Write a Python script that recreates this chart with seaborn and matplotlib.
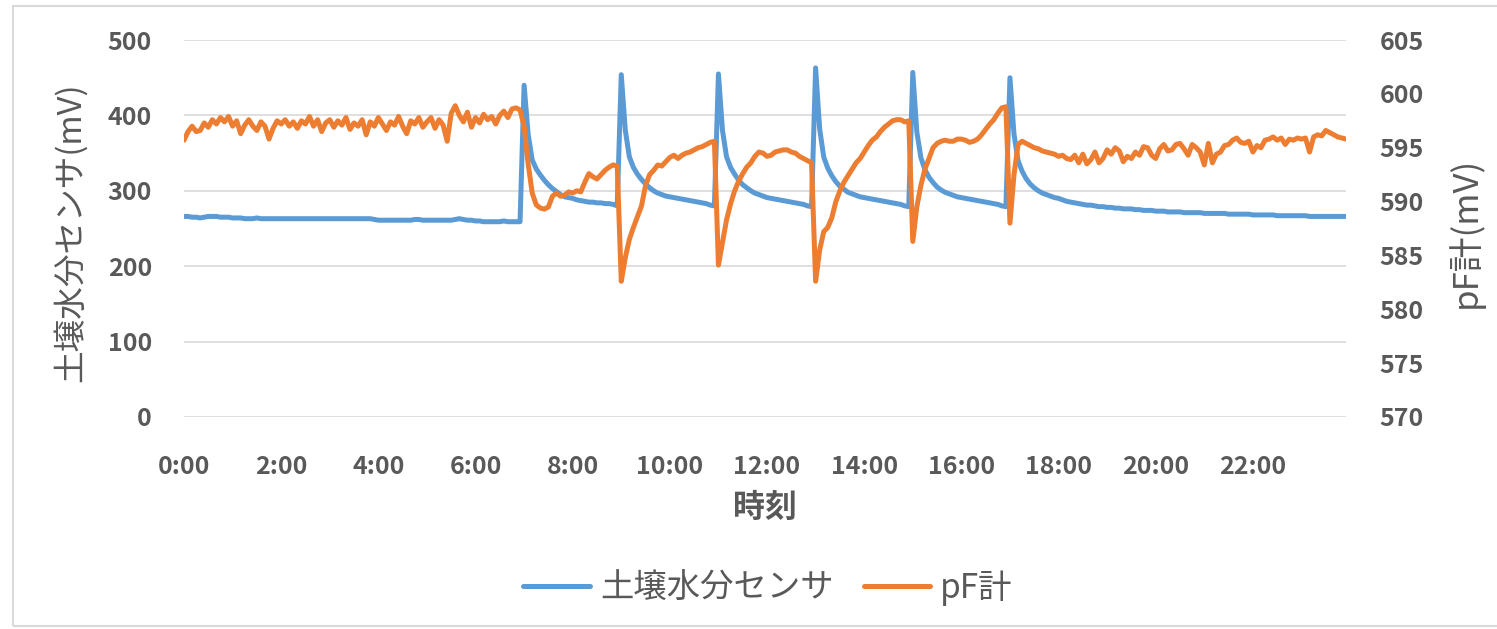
import matplotlib
matplotlib.use("Agg")
import matplotlib.pyplot as plt
from matplotlib.patches import Rectangle
from matplotlib.lines import Line2D
import seaborn as sns
import pandas as pd

# 5-minute readings over one day
times = [f"{h}:{m:02d}" for h in range(24) for m in range(0, 60, 5)]

soil = [
    266, 266, 265, 265, 264, 265, 266, 266, 266, 265, 265, 265,   # 0:00
    264, 264, 264, 263, 263, 263, 264, 263, 263, 263, 263, 263,   # 1:00
    263, 263, 263, 263, 263, 263, 263, 263, 263, 263, 263, 263,   # 2:00
    263, 263, 263, 263, 263, 263, 263, 263, 263, 263, 263, 262,   # 3:00
    261, 261, 261, 261, 261, 261, 261, 261, 261, 262, 262, 261,   # 4:00
    261, 261, 261, 261, 261, 261, 261, 262, 263, 262, 261, 261,   # 5:00
    260, 260, 259, 259, 259, 259, 259, 260, 259, 259, 259, 259,   # 6:00
    440, 375, 341, 329, 321, 314, 308, 303, 299, 295, 292, 291,   # 7:00
    290, 288, 287, 286, 285, 285, 284, 284, 283, 283, 282, 280,   # 8:00
    454, 380, 345, 331, 322, 315, 309, 304, 300, 297, 295, 293,   # 9:00
    292, 291, 290, 289, 288, 287, 286, 285, 284, 283, 281, 280,   # 10:00
    455, 380, 345, 331, 322, 314, 308, 304, 300, 297, 295, 293,   # 11:00
    291, 290, 289, 288, 287, 286, 285, 284, 283, 282, 280, 279,   # 12:00
    463, 382, 345, 330, 320, 312, 306, 302, 298, 296, 294, 292,   # 13:00
    291, 290, 289, 288, 287, 286, 285, 284, 283, 282, 280, 279,   # 14:00
    457, 378, 344, 328, 318, 311, 305, 301, 298, 296, 294, 292,   # 15:00
    291, 290, 289, 288, 287, 286, 285, 284, 283, 282, 280, 279,   # 16:00
    450, 375, 340, 326, 316, 309, 304, 300, 297, 295, 293, 291,   # 17:00
    290, 288, 286, 285, 284, 283, 282, 281, 281, 280, 279, 279,   # 18:00
    278, 278, 277, 277, 276, 276, 276, 275, 275, 274, 274, 274,   # 19:00
    273, 273, 273, 272, 272, 272, 272, 271, 271, 271, 271, 271,   # 20:00
    270, 270, 270, 270, 270, 270, 269, 269, 269, 269, 269, 269,   # 21:00
    268, 268, 268, 268, 268, 268, 267, 267, 267, 267, 267, 267,   # 22:00
    267, 267, 266, 266, 266, 266, 266, 266, 266, 266, 266, 266,   # 23:00
]

pf = [
    595.7, 596.5, 597.0, 596.5, 596.6, 597.3, 596.9, 597.6, 597.2, 597.8, 597.4, 597.9,   # 0:00
    597.0, 597.5, 596.3, 597.1, 597.6, 597.0, 596.6, 597.4, 597.0, 595.8, 596.8, 597.5,   # 1:00
    597.2, 597.6, 597.0, 597.4, 596.8, 597.5, 597.2, 597.9, 597.0, 597.6, 596.5, 597.3,   # 2:00
    597.6, 596.9, 597.5, 597.1, 597.8, 596.7, 597.3, 597.0, 597.6, 596.2, 597.4, 597.0,   # 3:00
    597.8, 597.2, 596.6, 597.4, 597.1, 597.9, 597.0, 596.3, 597.5, 597.2, 597.8, 596.9,   # 4:00
    597.4, 597.8, 596.8, 597.6, 597.1, 595.6, 598.2, 598.9, 598.0, 597.4, 598.3, 596.9,   # 5:00
    597.8, 597.3, 598.1, 597.6, 597.9, 597.2, 598.0, 598.4, 597.8, 598.6, 598.7, 598.5,   # 6:00
    597.0, 593.5, 590.8, 589.7, 589.4, 589.3, 589.5, 590.5, 590.8, 590.5, 590.6, 590.9,   # 7:00
    590.8, 591.0, 590.9, 591.8, 592.6, 592.3, 592.1, 592.5, 592.9, 593.2, 593.4, 593.3,   # 8:00
    582.6, 584.8, 586.5, 587.6, 588.6, 589.6, 591.5, 592.5, 592.9, 593.4, 593.3, 593.7,   # 9:00
    594.1, 594.3, 594.0, 594.3, 594.5, 594.6, 594.8, 595.0, 595.1, 595.3, 595.5, 595.6,   # 10:00
    584.1, 586.2, 588.3, 589.8, 591.0, 591.9, 592.6, 593.2, 593.6, 594.2, 594.6, 594.5,   # 11:00
    594.2, 594.3, 594.6, 594.7, 594.8, 594.8, 594.6, 594.5, 594.2, 594.0, 593.8, 593.6,   # 12:00
    582.6, 585.5, 587.2, 587.6, 588.5, 590.0, 591.0, 591.8, 592.4, 593.0, 593.6, 594.0,   # 13:00
    594.6, 595.2, 595.7, 596.0, 596.5, 596.9, 597.2, 597.5, 597.6, 597.6, 597.4, 597.5,   # 14:00
    586.3, 589.5, 591.5, 593.0, 594.0, 595.0, 595.4, 595.6, 595.7, 595.6, 595.6, 595.8,   # 15:00
    595.8, 595.7, 595.5, 595.6, 595.8, 596.2, 596.7, 597.2, 597.6, 598.2, 598.7, 598.8,   # 16:00
    588.0, 592.5, 595.3, 595.6, 595.4, 595.2, 595.0, 594.9, 594.7, 594.6, 594.5, 594.4,   # 17:00
    594.2, 594.3, 594.0, 593.9, 594.3, 593.6, 594.4, 593.5, 593.9, 594.6, 593.6, 594.0,   # 18:00
    594.8, 594.4, 595.0, 594.7, 593.7, 594.2, 594.0, 594.6, 594.3, 595.1, 595.0, 594.3,   # 19:00
    594.0, 594.9, 595.3, 594.7, 594.8, 595.3, 595.4, 594.9, 594.3, 595.3, 595.0, 594.6,   # 20:00
    593.4, 595.4, 593.6, 594.4, 594.6, 595.2, 595.3, 595.7, 595.9, 595.5, 595.4, 595.6,   # 21:00
    594.6, 595.2, 595.0, 595.7, 595.8, 596.0, 595.7, 595.9, 595.3, 595.8, 595.7, 595.9,   # 22:00
    595.8, 595.9, 594.6, 596.0, 596.2, 596.1, 596.6, 596.4, 596.2, 596.0, 595.9, 595.8,   # 23:00
]

tick_hours = [0, 2, 4, 6, 8, 10, 12, 14, 16, 18, 20, 22]
tick_labels = ["0:00", "2:00", "4:00", "6:00", "8:00", "10:00",
               "12:00", "14:00", "16:00", "18:00", "20:00", "22:00"]

df = pd.DataFrame({"time": times, "soil": soil, "pf": pf})
df["hour"] = [int(t.split(":")[0]) + int(t.split(":")[1]) / 60 for t in df["time"]]

sns.set_style("white")
plt.rcParams["font.family"] = ["Noto Sans CJK JP", "DejaVu Sans"]

blue = "#5B9BD5"
orange = "#ED7D31"
grey = "#595959"

fig = plt.figure(figsize=(14.97, 6.29), dpi=100)
ax = fig.add_axes([184 / 1497, 1 - 417 / 629, 1162 / 1497, 377 / 629])
ax2 = ax.twinx()

sns.lineplot(data=df, x="hour", y="soil", ax=ax, color=blue, lw=3.6, legend=False)
sns.lineplot(data=df, x="hour", y="pf", ax=ax2, color=orange, lw=3.6, legend=False)

ax.set_xlim(0, df["hour"].iloc[-1])
ax.set_ylim(0, 500)
ax.set_yticks(range(0, 501, 100))
ax2.set_ylim(570, 605)
ax2.set_yticks(range(570, 606, 5))
ax.set_xticks(tick_hours)
ax.set_xticklabels(tick_labels)

ax.yaxis.grid(True, color="#D9D9D9", lw=1.2)
ax.xaxis.grid(False)
ax2.grid(False)
ax.set_axisbelow(True)
for a in (ax, ax2):
    for s in a.spines.values():
        s.set_visible(False)
    a.set_xlabel("")
    a.set_ylabel("")

ax.tick_params(axis="y", length=0, pad=23, labelsize=18, labelcolor=grey)
ax.tick_params(axis="x", length=0, pad=27, labelsize=18, labelcolor=grey)
ax2.tick_params(axis="y", length=0, pad=24, labelsize=18, labelcolor=grey)
for lab in ax.get_xticklabels() + ax.get_yticklabels() + ax2.get_yticklabels():
    lab.set_fontweight("bold")

fig.text(70 / 1497, 1 - 232 / 629, "土壌水分センサ(mV)", rotation=90, ha="center", va="center",
         fontsize=23.5, color=grey)
fig.text(1465 / 1497, 1 - 232 / 629, "pF計(mV)", rotation=90, ha="center", va="center",
         fontsize=25, color=grey)
fig.text(765 / 1497, 1 - 508 / 629, "時刻", ha="center", va="center",
         fontsize=23, color=grey, fontweight="bold")

handles = [Line2D([], [], color=blue, lw=3.6), Line2D([], [], color=orange, lw=3.6)]
leg = fig.legend(handles, ["土壌水分センサ", "pF計"], loc="center", bbox_to_anchor=(768 / 1497, 1 - 588 / 629),
                 ncol=2, frameon=False, fontsize=24, handlelength=2.0, columnspacing=0.9, handletextpad=0.3)
for t in leg.get_texts():
    t.set_color(grey)

fig.patches.append(Rectangle((13 / 1497, 3 / 629), 1.0, 1 - 9 / 629, transform=fig.transFigure,
                             fill=False, edgecolor="#D9D9D9", lw=1.5))

fig.savefig("out.png", dpi=100)
